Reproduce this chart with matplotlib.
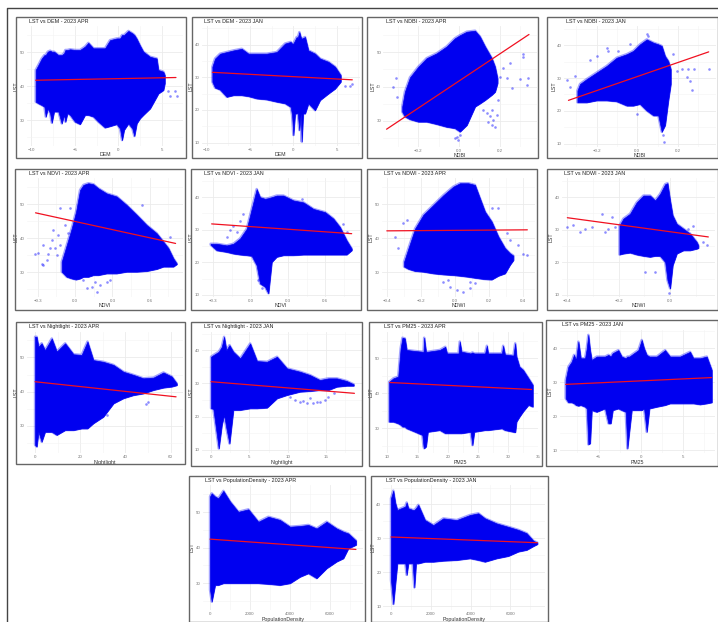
import matplotlib
matplotlib.use("Agg")
import matplotlib.pyplot as plt
from matplotlib.patches import Rectangle
from matplotlib.lines import Line2D

plt.rcParams["font.family"] = ["Liberation Sans", "DejaVu Sans"]

W, H = 718, 622

# x = predictor, hi / lo = upper and lower edge of the point cloud (LST)
dem_apr_x = [-9.47, -9.16, -8.78, -8.47, -8.32, -8.09, -7.82, -7.63, -7.37, -6.87, -6.49, -6.22, -6.07, -5.84, -5.53, -4.96, -4.39, -3.82, -3.44, -2.86, -2.29, -1.53, -0.95, -0.19, 0.19, 0.42, 0.65, 1.15, 1.6, 1.83, 2.1, 2.48, 2.86, 3.63, 4.39, 4.58, 5.15, 5.31]
dem_apr_hi = [44.7, 46.2, 48.1, 49.1, 49.1, 50.1, 50.4, 50.1, 50.1, 49.1, 49.1, 49.6, 50.6, 50.6, 50.8, 50.6, 50.6, 51.6, 52.7, 51.1, 51.1, 51.1, 53.5, 54, 54, 55, 55, 56.2, 55.5, 55, 53.9, 51.9, 50.1, 48.6, 48.1, 44.7, 44.2, 43.2]
dem_apr_lo = [35.4, 34.9, 34.4, 33.9, 31, 33.4, 32, 29.2, 32.5, 32.5, 29, 31.5, 29.5, 32, 31.5, 29.5, 28.8, 31.5, 31.5, 31, 29.5, 27.8, 28.2, 28.8, 27.5, 24.1, 27.1, 29, 27.5, 25.3, 29, 30.5, 31.5, 33.4, 36.9, 37.8, 38.8, 40.8]
dem_apr_fit_x = [-9.47, 6.6]
dem_apr_fit_y = [41.7, 42.5]
dem_apr_out_x = [5.73, 6.49, 5.92, 6.68]
dem_apr_out_y = [38.6, 38.6, 37.2, 37.1]

dem_jan_x = [-9.35, -9.04, -8.46, -7.69, -6.92, -5.96, -5.19, -4.23, -3.08, -1.92, -0.96, -0.31, -0.15, 0, 0.19, 0.38, 0.5, 0.69, 0.85, 0.96, 1.12, 1.35, 1.73, 2.5, 3.08, 4.04, 4.81, 5.46]
dem_jan_hi = [33.2, 35.7, 37.2, 37.7, 38.2, 38.7, 37.2, 37.2, 37.2, 37.7, 40.3, 40.8, 40.3, 40.3, 41.3, 42.3, 42, 43.8, 42.3, 41.8, 42, 42.3, 38.2, 37.2, 35.7, 34.7, 33.2, 30.6]
dem_jan_lo = [28.6, 26.8, 26.2, 24, 24.5, 24.5, 24.2, 23.5, 23.2, 22.5, 22, 20.9, 18.4, 12.3, 18.9, 18.9, 19, 13.8, 18.9, 10.3, 18.9, 18.9, 22, 19.9, 23, 25, 26.5, 28.6]
dem_jan_fit_x = [-9.35, 6.8]
dem_jan_fit_y = [31.5, 29.2]
dem_jan_out_x = [6.0, 6.54, 6.77]
dem_jan_out_y = [27.4, 27.4, 27.9]

ndbi_apr_x = [-0.279, -0.266, -0.241, -0.2, -0.159, -0.11, -0.061, -0.02, 0.005, 0.038, 0.079, 0.103, 0.128, 0.161, 0.177, 0.189]
ndbi_apr_hi = [34.2, 38.5, 42.7, 45.8, 48.3, 49.7, 51.7, 54.1, 55, 56, 56.3, 54.6, 51.7, 48.3, 45.8, 42.4]
ndbi_apr_lo = [32.7, 31.3, 30.5, 29.8, 29.8, 29.1, 28.3, 27.9, 26.9, 28.8, 34.2, 35.1, 36.1, 37.6, 38.5, 41]
ndbi_apr_fit_x = [-0.356, 0.344]
ndbi_apr_fit_y = [27.6, 55.2]
ndbi_apr_out_x = [0.161, 0.177, 0.144, 0.169, 0.12, 0.136, 0.185, 0.152, 0.161, 0.193, 0.202, 0.234, 0.259, 0.3, 0.341, 0.333, 0.316, 0.313, 0.218, 0.251, -0.003, -0.008, 0.005, -0.02, -0.31, -0.323, -0.307]
ndbi_apr_out_y = [28.8, 28.3, 29.8, 30.3, 33.2, 32.2, 31.7, 31.3, 33.2, 36.1, 42.9, 42.4, 39.5, 42.1, 42.4, 40.5, 48.7, 49.4, 45.3, 46.8, 24.5, 25.4, 25.9, 25, 42.4, 39.8, 37.1]

ndbi_jan_x = [-0.295, -0.282, -0.249, -0.2, -0.151, -0.102, -0.052, -0.02, 0.013, 0.046, 0.079, 0.103, 0.12, 0.136, 0.152, 0.164]
ndbi_jan_hi = [26.2, 28.2, 29.7, 31.7, 33.7, 36.2, 37.3, 38.3, 40.3, 41.8, 40.8, 40.3, 39.8, 36.7, 35.2, 32.7]
ndbi_jan_lo = [22.6, 22.6, 22.6, 23.2, 23.2, 22.9, 21.6, 21.6, 22.1, 20.1, 18.6, 18.6, 13.6, 15.6, 23.2, 28.2]
ndbi_jan_fit_x = [-0.339, 0.351]
ndbi_jan_fit_y = [23.2, 38]
ndbi_jan_out_x = [-0.344, -0.331, -0.307, -0.151, -0.143, -0.233, -0.2, -0.093, -0.036, 0.046, 0.054, 0.193, 0.218, 0.251, 0.28, 0.352, 0.259, 0.267, 0.243, 0.128, 0.131, -0.003, 0.177]
ndbi_jan_out_y = [29.4, 27.2, 30.7, 39.3, 38.3, 35.4, 36.7, 38.3, 40.3, 43.6, 42.8, 32.2, 32.7, 32.7, 32.9, 32.9, 29.2, 26.4, 30.2, 12.6, 10.6, 18.9, 37.3]

ndvi_apr_x = [-0.107, -0.067, -0.027, 0.008, 0.04, 0.067, 0.107, 0.147, 0.187, 0.254, 0.334, 0.414, 0.495, 0.575, 0.655, 0.709, 0.749, 0.789, 0.816]
ndvi_apr_hi = [33.1, 38, 42.9, 47.8, 54.2, 55.7, 56.2, 55.9, 54.7, 53.2, 52.3, 49.8, 46.9, 43.9, 41.5, 39, 37.1, 34.1, 32.6]
ndvi_apr_lo = [30.2, 28.7, 28.2, 27.9, 28.2, 28.7, 28.7, 29.2, 29.2, 29.7, 29.7, 30.2, 30.2, 30.4, 31, 31.7, 31.7, 31.7, 32.4]
ndvi_apr_fit_x = [-0.317, 0.807]
ndvi_apr_fit_y = [47.5, 38.5]
ndvi_apr_out_x = [-0.321, -0.294, -0.267, -0.254, -0.254, -0.214, -0.187, -0.174, -0.16, -0.134, -0.12, -0.12, -0.08, -0.04, -0.053, -0.147, -0.2, -0.227, 0.094, 0.174, 0.134, 0.2, 0.281, 0.067, 0.16, 0.254, 0.535, 0.762]
ndvi_apr_out_y = [35.3, 35.6, 32.6, 32.2, 38, 35.3, 39.5, 42.5, 37.1, 41, 48.8, 38, 44, 48.8, 41.5, 35.1, 37.1, 33.6, 25.3, 24.1, 25.8, 26.3, 27.7, 27.7, 27.3, 27.3, 49.8, 40.5]

ndvi_jan_x = [-0.322, -0.273, -0.193, -0.139, -0.086, -0.032, 0.008, 0.048, 0.075, 0.115, 0.142, 0.169, 0.209, 0.263, 0.343, 0.424, 0.504, 0.598, 0.665, 0.718, 0.772, 0.812]
ndvi_jan_hi = [25.7, 25.7, 25.2, 25.7, 27.3, 30.3, 36.4, 42.5, 40, 39.5, 39.7, 40, 40.5, 40.5, 39, 38.4, 36.4, 35.4, 33.4, 30.8, 26.7, 24.2]
ndvi_jan_lo = [25.4, 23.7, 23.2, 22.7, 22.4, 22.2, 22, 19.1, 13.5, 12.5, 10.5, 20.1, 21.7, 22.2, 22.2, 22.4, 22.4, 22.4, 22.4, 22.4, 22.4, 23.7]
ndvi_jan_fit_x = [-0.314, 0.812]
ndvi_jan_fit_y = [31.8, 28.8]
ndvi_jan_out_x = [-0.166, -0.139, -0.086, -0.059, -0.193, -0.113, 0.41, 0.772, 0.745, 0.062, 0.088]
ndvi_jan_out_y = [29.8, 31.3, 32.8, 34.9, 27.8, 29.3, 39.5, 29.3, 31.8, 14.5, 12]

ndwi_apr_x = [-0.299, -0.273, -0.234, -0.186, -0.127, -0.068, -0.01, 0.029, 0.078, 0.117, 0.146, 0.176, 0.215, 0.254, 0.293, 0.322, 0.342]
ndwi_apr_hi = [33.1, 37.1, 42.9, 46.9, 49.8, 52.7, 55.2, 56.2, 56.2, 55.7, 51.8, 47.8, 44.9, 40.5, 37.1, 35.6, 34.9]
ndwi_apr_lo = [31.7, 31, 30.4, 30.2, 29.7, 29.4, 29.2, 29, 28.7, 28.4, 28.2, 28, 27.9, 29, 29.7, 32.2, 33.6]
ndwi_apr_fit_x = [-0.4, 0.424]
ndwi_apr_fit_y = [42.2, 42.5]
ndwi_apr_out_x = [0.4, 0.42, 0.371, 0.322, 0.303, 0.254, 0.215, -0.352, -0.332, -0.303, -0.283, -0.068, -0.029, 0.01, 0.049, 0.088, 0.117, -0.039, 0.088]
ndwi_apr_out_y = [35.3, 35.1, 38, 39.5, 41.5, 49, 48.8, 40.5, 37.3, 44.4, 45.4, 27.3, 25.8, 24.8, 24.1, 25.3, 26.8, 27.7, 27.3]

ndwi_jan_x = [-0.197, -0.182, -0.156, -0.13, -0.104, -0.078, -0.058, -0.039, -0.019, -0.01, 0, 0.01, 0.026, 0.052, 0.078, 0.104, 0.11]
ndwi_jan_hi = [31.3, 33.4, 34.9, 38.4, 40.5, 40.5, 39, 41, 44, 44.3, 39, 34.4, 31.8, 30.3, 28.8, 26.2, 25.2]
ndwi_jan_lo = [22.4, 22.7, 23, 22.4, 22, 21.7, 22, 22, 20.1, 14.5, 12, 19.1, 22.7, 23.7, 23.7, 24.2, 24.4]
ndwi_jan_fit_x = [-0.4, 0.149]
ndwi_jan_fit_y = [33.7, 27.8]
ndwi_jan_out_x = [-0.403, -0.377, -0.351, -0.331, -0.305, -0.266, -0.253, -0.227, -0.214, -0.24, 0.143, 0.13, 0.091, 0.071, -0.058, -0.097, -0.006]
ndwi_jan_out_y = [30.8, 31.5, 29.3, 30.3, 30.8, 34.9, 29.3, 33.9, 30.8, 30.3, 25.4, 26.2, 31.3, 30.3, 17.1, 17.1, 10.5]

night_apr_x = [0, 0.7, 1.5, 2.9, 4.4, 7.4, 9.6, 13.3, 17, 20.6, 23.2, 25.8, 30.2, 34.7, 39.1, 43.5, 47.9, 52.4, 56.8, 60.5, 62.7]
night_apr_hi = [56, 56, 53.1, 54.1, 52.1, 55.5, 51.7, 54.1, 50.9, 50.7, 54.6, 49.2, 48.7, 47.8, 45.8, 44.9, 43.9, 44.1, 45.6, 44.4, 42.4]
night_apr_lo = [24.5, 24, 28.3, 25.4, 28.3, 28.3, 27.4, 28.8, 28.8, 29.3, 29.3, 30.8, 32.7, 36.6, 38.1, 39, 39.5, 40.5, 41.2, 41.5, 41.9]
night_apr_fit_x = [0, 62.4]
night_apr_fit_y = [42.9, 38.5]
night_apr_out_x = [50.1, 49.1, 31.7]
night_apr_out_y = [36.9, 36.3, 33.2]

night_jan_x = [0, 0.3, 1, 1.4, 1.7, 2, 2.4, 2.9, 3.8, 5.1, 6, 7.3, 8.6, 9.9, 11.6, 12.9, 14.2, 15.3, 16.4, 17.7, 18.6]
night_jan_hi = [38, 38.5, 39.5, 41, 44, 40, 41.5, 39.5, 37.5, 42, 36.7, 36.5, 38, 34.5, 33.5, 32.5, 31, 31.5, 31.5, 30.7, 29.7]
night_jan_lo = [22.5, 22.3, 10.4, 17.5, 20.5, 16.5, 11.9, 22, 22, 22.5, 22.5, 22.7, 25.5, 26.5, 27.5, 27.7, 28, 28, 29, 29.3, 29.3]
night_jan_fit_x = [0, 18.7]
night_jan_fit_y = [30.5, 27]
night_jan_out_x = [10.3, 11, 11.6, 12.5, 13.3, 14.2, 14.9, 15.3, 16, 12.9, 12, 13.8]
night_jan_out_y = [26, 25, 24.3, 24, 24, 24.3, 25, 26, 27, 25.5, 24.7, 24.3]

pm25_apr_x = [10.3, 11, 11.8, 12.2, 12.5, 12.9, 13.2, 14.6, 15.8, 16, 16.1, 16.4, 16.7, 18.7, 19.6, 19.9, 21.8, 22, 22.3, 23.8, 24.1, 24.4, 26.2, 26.5, 26.7, 29, 29.2, 29.5, 30.9, 31.2, 31.4, 31.9, 32.5, 33.4, 34.1]
pm25_apr_hi = [43.3, 44.3, 44.8, 52.9, 55.9, 55.7, 52.4, 52.1, 51.9, 51.9, 55.9, 51.9, 51.9, 52.4, 53.3, 51.4, 51.4, 54.8, 51.9, 51.4, 51.7, 51.4, 51.4, 53.6, 51.4, 51.4, 53.6, 51.1, 50.8, 54.3, 50.5, 47.6, 46.7, 44.3, 42.4]
pm25_apr_lo = [31.9, 31.9, 31.4, 31, 30.5, 30.5, 30, 29, 28.1, 24.8, 24.3, 24.8, 29, 29.5, 28.6, 28.6, 28.6, 28.6, 28.6, 29, 25.2, 29, 29.5, 29.5, 29.5, 30, 29.8, 29.5, 29, 28.9, 31.9, 33.3, 34.8, 36.7, 36.2]
pm25_apr_fit_x = [10.4, 33.9]
pm25_apr_fit_y = [43.1, 41.1]

pm25_jan_x = [-8.9, -8.58, -8.18, -7.91, -7.67, -7.39, -7.11, -6.6, -6.4, -6.21, -6.01, -5.81, -5.22, -4.23, -3.83, -3.56, -3.32, -2.65, -2.25, -1.78, -1.58, -1.34, -1.07, -0.28, 0.12, 0.4, 0.71, 1.03, 1.9, 2.89, 3.48, 4.66, 5.85, 6.25, 7.04, 7.83, 8.42]
pm25_jan_hi = [30.7, 34.6, 36.1, 38.1, 36.6, 42, 37.1, 37.1, 40, 44, 39.5, 36.6, 37.6, 37.6, 38.1, 37.6, 38.6, 39.5, 37.6, 37.1, 37.6, 37.6, 38.1, 39.5, 42.5, 40, 38.1, 37.6, 37.6, 39.5, 37.6, 37.6, 39, 37.1, 37.1, 37.6, 33.6]
pm25_jan_lo = [25.3, 24.1, 24.1, 23.8, 23.3, 23.1, 23.3, 22.8, 22.3, 11.7, 12, 21.8, 21.3, 22.3, 17.9, 17.9, 21.8, 22.3, 21.8, 21.3, 10.5, 15.9, 21.8, 21.8, 21.8, 22.3, 15.4, 22.3, 22.8, 23.3, 23.8, 23.8, 23.8, 23.8, 23.5, 23.8, 24.1]
pm25_jan_fit_x = [-8.9, 8.4]
pm25_jan_fit_y = [29.4, 31.4]

pop_apr_x = [0, 83, 250, 417, 667, 1000, 1417, 1917, 2417, 2917, 3500, 4000, 4500, 4917, 5333, 5833, 6333, 6667, 6917, 7300]
pop_apr_hi = [54.4, 55.3, 54.4, 53.9, 56, 53, 50.1, 50.8, 47.3, 48.7, 47.8, 45.9, 46.1, 46.4, 45.4, 47.3, 45.4, 44.5, 44, 42]
pop_apr_lo = [28.1, 24.8, 29.5, 29.5, 30, 30, 30, 30, 30, 29.8, 29.5, 30, 31.8, 32.8, 31.4, 34.2, 36.1, 37, 39.8, 40.8]
pop_apr_fit_x = [0, 7300]
pop_apr_fit_y = [42.4, 39.5]

pop_jan_x = [0, 117, 218, 318, 720, 787, 871, 1089, 1173, 1256, 1374, 1709, 2127, 2630, 3300, 3970, 4389, 4724, 5310, 5896, 6399, 6817, 7152, 7353]
pop_jan_hi = [41.8, 44.1, 40.4, 38.4, 39.4, 40.6, 38.9, 38.4, 38.4, 38.9, 39.9, 35.4, 33.9, 35.9, 35.4, 36.9, 37.4, 35.9, 34.4, 33.4, 32.5, 31.5, 29.3, 28.7]
pop_jan_lo = [17.7, 10.6, 16.7, 22.6, 22.6, 19.2, 22.6, 22.6, 15.5, 22.6, 22.6, 23.1, 23.1, 23.4, 23.6, 24.1, 23.6, 23.1, 24.1, 24.8, 26.1, 26.6, 27.7, 28.3]
pop_jan_fit_x = [0, 7353]
pop_jan_fit_y = [30.4, 28.7]

# tick labels
lst_apr_ticks = [30, 40, 50]
lst_jan_ticks = [10, 20, 30, 40]
dem_ticks = [-10, -5, 0, 5]
ndbi_ticks = [-0.2, 0.0, 0.2]
ndvi_ticks = [-0.3, 0.0, 0.3, 0.6]
ndwi_apr_ticks = [-0.4, -0.2, 0.0, 0.2, 0.4]
ndwi_jan_ticks = [-0.4, -0.2, 0.0]
night_apr_ticks = [0, 20, 40, 60]
night_jan_ticks = [0, 5, 10, 15]
pm25_apr_ticks = [10, 15, 20, 25, 30, 35]
pm25_jan_ticks = [-5, 0, 5]
pop_ticks = [0, 2000, 4000, 6000]

fig = plt.figure(figsize=(W / 100, H / 100), dpi=100, facecolor="white")

# the big frame round the collage
fig.add_artist(Line2D([7 / W, 7 / W, 1], [0, 1 - 8 / H, 1 - 8 / H], color="#444444", lw=1.0))


def panel(box, area, xlim, ylim, name, month, xlab, xticks, yticks, xs, hi, lo, fit_x, fit_y, out_x=None, out_y=None):
    # frame of the small plot
    x0, y0, x1, y1 = box
    fig.add_artist(Rectangle((x0 / W, 1 - y1 / H), (x1 - x0) / W, (y1 - y0) / H, fill=False,
                             edgecolor="#666666", lw=1.0, transform=fig.transFigure))
    ax0, ay0, ax1, ay1 = area
    ax = fig.add_axes([ax0 / W, 1 - ay1 / H, (ax1 - ax0) / W, (ay1 - ay0) / H])
    ax.set_xlim(xlim)
    ax.set_ylim(ylim)
    for s in ax.spines.values():
        s.set_visible(False)

    # ggplot style grid, minor lines half way between the ticks
    for axis, ticks, lim in ((ax.xaxis, xticks, xlim), (ax.yaxis, yticks, ylim)):
        step = ticks[1] - ticks[0]
        minor = [ticks[0] + (i - 0.5) * step for i in range(-3, len(ticks) + 4)]
        axis.set_ticks(ticks)
        axis.set_ticks([m for m in minor if lim[0] < m < lim[1]], minor=True)
    ax.grid(True, which="major", color="#ebebeb", lw=0.6)
    ax.grid(True, which="minor", color="#f3f3f3", lw=0.4)
    ax.set_axisbelow(True)
    ax.tick_params(which="both", length=0, labelsize=3.2, labelcolor="#777777", pad=1.5)

    # soft edge first, then the solid cloud
    ax.fill_between(xs, lo, hi, facecolor="none", edgecolor="#2020ff", alpha=0.4, lw=1.8)
    ax.fill_between(xs, lo, hi, color="#0000f0", lw=0.5)
    if out_x:
        ax.scatter(out_x, out_y, s=3.5, color="#0000ff", alpha=0.45, linewidths=0)
    ax.plot(fit_x, fit_y, color="#f01020", lw=0.9, solid_capstyle="round")

    ax.set_xlabel(xlab, fontsize=3.8, labelpad=0.5, color="#333333")
    ax.set_ylabel("LST", fontsize=3.8, labelpad=0.5, color="#333333")
    fig.text((ax0 + 2.5) / W, 1 - (y0 + 4.5) / H, "LST vs " + name + " - 2023 " + month, fontsize=3.9,
             color="#222222", va="center", ha="left")


panel((16, 17, 186, 158), (26.7, 26, 183.3, 145.7), (-10.5, 7.44), (22.45, 57.65), "DEM", "APR", "DEM", dem_ticks, lst_apr_ticks,
      dem_apr_x, dem_apr_hi, dem_apr_lo, dem_apr_fit_x, dem_apr_fit_y, dem_apr_out_x, dem_apr_out_y)
panel((192, 17, 362, 158), (201.7, 26, 360, 145.7), (-10.58, 7.69), (9.04, 45.67), "DEM", "JAN", "DEM", dem_ticks, lst_jan_ticks,
      dem_jan_x, dem_jan_hi, dem_jan_lo, dem_jan_fit_x, dem_jan_fit_y, dem_jan_out_x, dem_jan_out_y)
panel((367, 17, 538, 158), (383.3, 26, 536.7, 146.7), (-0.372, 0.382), (22.5, 57.67), "NDBI", "APR", "NDBI", ndbi_ticks, lst_apr_ticks,
      ndbi_apr_x, ndbi_apr_hi, ndbi_apr_lo, ndbi_apr_fit_x, ndbi_apr_fit_y, ndbi_apr_out_x, ndbi_apr_out_y)
panel((547, 17, 718, 158), (564, 26, 716, 146.7), (-0.361, 0.387), (9.05, 45.9), "NDBI", "JAN", "NDBI", ndbi_ticks, lst_jan_ticks,
      ndbi_jan_x, ndbi_jan_hi, ndbi_jan_lo, ndbi_jan_fit_x, ndbi_jan_fit_y, ndbi_jan_out_x, ndbi_jan_out_y)

panel((15, 169, 185, 310), (26.7, 178.3, 183.3, 296.7), (-0.388, 0.869), (22.84, 57.65), "NDVI", "APR", "NDVI", ndvi_ticks, lst_apr_ticks,
      ndvi_apr_x, ndvi_apr_hi, ndvi_apr_lo, ndvi_apr_fit_x, ndvi_apr_fit_y, ndvi_apr_out_x, ndvi_apr_out_y)
panel((191, 169, 361, 310), (201.7, 178.3, 360, 296.7), (-0.394, 0.879), (9.45, 45.8), "NDVI", "JAN", "NDVI", ndvi_ticks, lst_jan_ticks,
      ndvi_jan_x, ndvi_jan_hi, ndvi_jan_lo, ndvi_jan_fit_x, ndvi_jan_fit_y, ndvi_jan_out_x, ndvi_jan_out_y)
panel((367, 169, 537, 310), (381.7, 178.3, 535, 296.7), (-0.43, 0.469), (22.84, 57.65), "NDWI", "APR", "NDWI", ndwi_apr_ticks, lst_apr_ticks,
      ndwi_apr_x, ndwi_apr_hi, ndwi_apr_lo, ndwi_apr_fit_x, ndwi_apr_fit_y, ndwi_apr_out_x, ndwi_apr_out_y)
panel((547, 169, 718, 310), (561.7, 178.3, 715, 296.7), (-0.422, 0.175), (9.45, 45.8), "NDWI", "JAN", "NDWI", ndwi_jan_ticks, lst_jan_ticks,
      ndwi_jan_x, ndwi_jan_hi, ndwi_jan_lo, ndwi_jan_fit_x, ndwi_jan_fit_y, ndwi_jan_out_x, ndwi_jan_out_y)

panel((16, 322, 185, 464), (26.7, 331.7, 183.3, 453.3), (-3.7, 65.6), (22.04, 57.48), "Nightlight", "APR", "Nightlight", night_apr_ticks, lst_apr_ticks,
      night_apr_x, night_apr_hi, night_apr_lo, night_apr_fit_x, night_apr_fit_y, night_apr_out_x, night_apr_out_y)
panel((191, 322, 362, 466), (201.7, 331.7, 361.7, 453.3), (-1.22, 19.65), (8.94, 45.55), "Nightlight", "JAN", "Nightlight", night_jan_ticks, lst_jan_ticks,
      night_jan_x, night_jan_hi, night_jan_lo, night_jan_fit_x, night_jan_fit_y, night_jan_out_x, night_jan_out_y)
panel((369, 322, 542, 466), (381.7, 331.7, 538.3, 453.3), (9.06, 35.03), (22.86, 57.62), "PM25", "APR", "PM25", pm25_apr_ticks, lst_apr_ticks,
      pm25_apr_x, pm25_apr_hi, pm25_apr_lo, pm25_apr_fit_x, pm25_apr_fit_y)
panel((546, 320, 718, 466), (560, 330, 715, 453.3), (-9.57, 8.81), (9.06, 45.44), "PM25", "JAN", "PM25", pm25_jan_ticks, lst_jan_ticks,
      pm25_jan_x, pm25_jan_hi, pm25_jan_lo, pm25_jan_fit_x, pm25_jan_fit_y)

panel((189, 476, 365, 622), (202.7, 485, 363.3, 610), (-367, 7668), (22.44, 57.65), "PopulationDensity", "APR", "PopulationDensity", pop_ticks, lst_apr_ticks,
      pop_apr_x, pop_apr_hi, pop_apr_lo, pop_apr_fit_x, pop_apr_fit_y)
panel((371, 476, 548, 622), (383.3, 485, 545, 610), (-385, 7739), (8.82, 45.76), "PopulationDensity", "JAN", "PopulationDensity", pop_ticks, lst_jan_ticks,
      pop_jan_x, pop_jan_hi, pop_jan_lo, pop_jan_fit_x, pop_jan_fit_y)

fig.savefig("out.png", dpi=100)
